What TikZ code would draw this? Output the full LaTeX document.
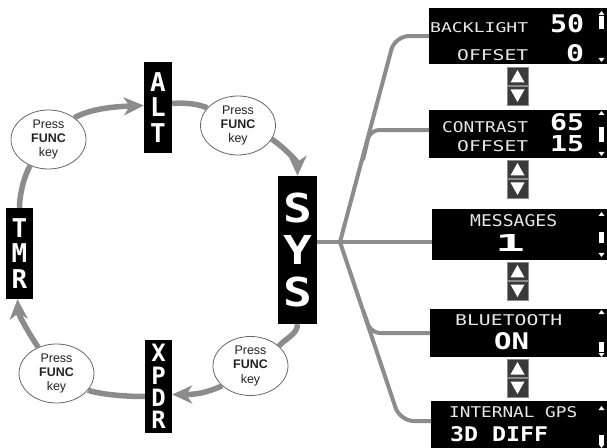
\documentclass[tikz,border=0pt]{standalone}
\usepackage{fontspec}
\usepackage{graphicx}
\setmainfont{Liberation Sans}
\newfontfamily\lcdfont{DejaVu Sans Mono}
\usetikzlibrary{arrows.meta,shapes.geometric}
\definecolor{linegray}{HTML}{8C8C8C}
\definecolor{btngray}{HTML}{3A3A3A}
\definecolor{btnedge}{HTML}{8A8A8A}
\definecolor{lcdtext}{HTML}{E8E8E8}
\definecolor{notetext}{HTML}{222222}
\newcommand\lcdtxt[3]{\resizebox{#1bp}{#2bp}{\lcdfont #3}}
\newcommand\lcdbold[3]{\resizebox{#1bp}{#2bp}{\lcdfont\bfseries #3}}
\newcommand\updownpair[1]{%
  \fill[btngray,draw=btnedge,line width=0.8bp] (507,#1) rectangle (528,#1+18.5);
  \fill[btngray,draw=btnedge,line width=0.8bp] (507,#1+19.5) rectangle (528,#1+38);
  \fill[white] (510.5,#1+15.5) -- (524.5,#1+15.5) -- (517.5,#1+3) -- cycle;
  \fill[white] (510.5,#1+22.5) -- (524.5,#1+22.5) -- (517.5,#1+35) -- cycle;}
\newcommand\scrollmarks[4]{%
  \fill[white] (598.5,#1+4) -- (604.5,#1+4) -- (601.5,#1) -- cycle;
  \fill[white] (599.2,#3) rectangle (603.8,#4);
  \fill[white] (598.5,#2-4) -- (604.5,#2-4) -- (601.5,#2) -- cycle;}
\begin{document}
\begin{tikzpicture}[x=1bp,y=-1bp,
  modebox/.style={fill=black, inner sep=0, align=center, text=white},
  pressnote/.style={draw=black!60, line width=0.8bp, fill=white, ellipse,
    minimum width=75bp, minimum height=59bp, inner sep=0, align=center,
    text=notetext, font=\fontsize{12.5}{14.5}\selectfont},
  flow/.style={draw=linegray, line width=5.5bp},
  flowarrow/.style={flow, -{Stealth[length=20bp,width=18bp,inset=6bp]}},
  tree/.style={draw=linegray, line width=4bp},
  screen/.style={fill=black, inner sep=0, anchor=north west},
  lcd/.style={inner sep=0, text=lcdtext, anchor=south west},
  lcdbig/.style={inner sep=0, text=white, anchor=south west}
]
\useasboundingbox (0,0) rectangle (607,448);

% mode boxes
\node[modebox, minimum width=28bp, minimum height=91bp,
  font=\lcdfont\bfseries\fontsize{26}{26}\selectfont] (alt) at (158,107.5) {A\\L\\T};
\node[modebox, minimum width=39bp, minimum height=148bp,
  font=\lcdfont\bfseries\fontsize{40}{42}\selectfont] (sys) at (297.5,250) {\scalebox{1.2}[1]{S}\\\scalebox{1.2}[1]{Y}\\\scalebox{1.2}[1]{S}};
\node[modebox, minimum width=27bp, minimum height=91bp,
  font=\lcdfont\bfseries\fontsize{26}{26}\selectfont] (tmr) at (19.5,253.5) {T\\M\\R};
\node[modebox, minimum width=27bp, minimum height=93bp,
  font=\lcdfont\bfseries\fontsize{24}{22.5}\selectfont] (xpdr) at (158.5,386.5) {X\\P\\D\\R};

% press notes
\node[pressnote] (e1) at (48.5,139.5) {Press\\\textbf{FUNC}\\key};
\node[pressnote] (e2) at (238,125.5) {Press\\\textbf{FUNC}\\key};
\node[pressnote] (e3) at (250.5,366) {Press\\\textbf{FUNC}\\key};
\node[pressnote] (e4) at (56.5,373.5) {Press\\\textbf{FUNC}\\key};

% flow ring
\draw[flowarrow] (e1.40) .. controls +(18,-10) and +(-25,1) .. ([yshift=2bp]alt.west);
\draw[flow] ([yshift=4bp]alt.east) .. controls +(14,-1) and +(-10,-4) .. (e2.150);
\draw[flowarrow] (e2.-22) .. controls +(12,8) and +(0,-14) .. (sys.north);
\draw[flow] (sys.south) .. controls +(0,10) and +(7,-8) .. (e3.35);
\draw[flowarrow] (e3.215) .. controls +(-16,7) and +(24,0) .. ([yshift=-8bp]xpdr.east);
\draw[flow] ([yshift=-10bp]xpdr.west) .. controls +(-22,0) and +(12,4) .. (e4.-28);
\draw[flowarrow] (e4.125) .. controls +(-8,-12) and +(1,16) .. ([xshift=-2bp]tmr.south);
\draw[flow] (tmr.north) .. controls +(0,-15) and +(-5,8) .. (e1.235);

% screens
\node[screen, minimum width=178bp, minimum height=56bp] (bl) at (429,8) {};
\node[screen, minimum width=178bp, minimum height=48bp] (ct) at (429,110) {};
\node[screen, minimum width=175bp, minimum height=51bp] (msg) at (432,209) {};
\node[screen, minimum width=177bp, minimum height=48bp] (bt) at (430,309) {};
\node[screen, minimum width=176bp, minimum height=47bp] (gps) at (431,401) {};

% tree
\coordinate (j0) at (340,242);
\draw[tree, rounded corners=14bp] (j0) -- (395,36) -- (bl.west);
\draw[tree, rounded corners=9bp] (363,160) -- (370,130) -- ([yshift=4bp]ct.west);
\draw[tree] (j0 -| sys.east) -- (j0) -- (j0 -| msg.west);
\draw[tree, rounded corners=9bp] (363,310) -- (371,333) -- (bt.west);
\draw[tree, rounded corners=14bp] (j0) -- (400,421) -- ([yshift=3.5bp]gps.west);

% screen texts
\node[lcd] (blA) at (430,33) {\lcdtxt{98}{10}{BACKLIGHT}};
\node[lcdbig] (blB) at (550,33) {\lcdbold{34}{18}{50}};
\node[lcd] (blC) at (457,61) {\lcdtxt{71}{11}{OFFSET}};
\node[lcdbig] (blD) at (566,62) {\lcdbold{18}{17}{0}};

\node[lcd] (ctA) at (442,133) {\lcdtxt{86}{11}{CONTRAST}};
\node[lcdbig] (ctB) at (550,131) {\lcdbold{34}{17}{65}};
\node[lcd] (ctC) at (457,152) {\lcdtxt{71}{11}{OFFSET}};
\node[lcdbig] (ctD) at (550,152) {\lcdbold{34}{16}{15}};

\node[lcd] (msgA) at (470,227) {\lcdtxt{87}{12}{MESSAGES}};
\node[lcdbig] (msgB) at (495,252) {\lcdbold{30}{17}{1}};

\node[lcd] (btA) at (455,326) {\lcdtxt{107}{11}{BLUETOOTH}};
\node[lcdbig] (btB) at (494,350) {\lcdbold{35}{17}{ON}};

\node[lcd] (gpsA) at (449,418) {\lcdtxt{128}{11}{INTERNAL GPS}};
\node[lcdbig] (gpsB) at (450,442) {\lcdbold{98}{15}{3D DIFF}};

% scroll marks
\scrollmarks{11}{62}{16}{29}
\scrollmarks{111}{156}{127}{142}
\scrollmarks{212}{257}{232}{243}
\scrollmarks{310}{357}{342}{352}
\scrollmarks{406}{448}{435}{444}

% up/down buttons
\updownpair{67}
\updownpair{160}
\updownpair{262}
\updownpair{359}
\end{tikzpicture}
\end{document}
